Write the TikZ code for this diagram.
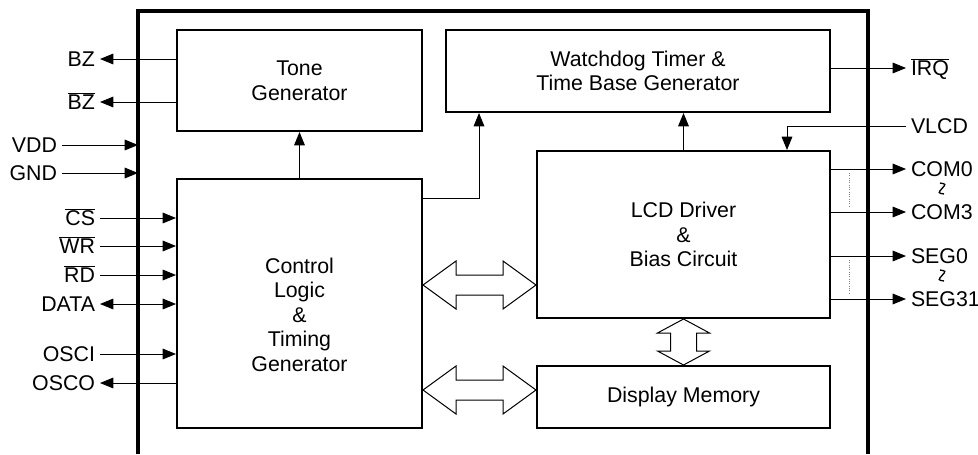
\documentclass[tikz,border=0pt]{standalone}
\usepackage{fontspec}
\setmainfont{Liberation Sans}
\usetikzlibrary{arrows.meta,calc}
\newcommand{\barsig}[1]{$\overline{\mbox{#1}}$}

\begin{document}
\begin{tikzpicture}[x=0.75pt,y=-0.75pt,
    font=\fontsize{16}{18.4}\selectfont,
    >={Triangle[length=10pt,width=8pt]},
    block/.style={draw=black,line width=1.5pt,align=center,inner sep=0pt},
    pin/.style={inner sep=0pt,outer sep=3.75pt,text height=11.5pt,text depth=0pt},
    wire/.style={line width=0.75pt},
    bus/.style={draw=black,fill=white,line width=0.75pt,line join=miter}]
  \useasboundingbox (0,0) rectangle (978,454);

  % chip outline (open at the bottom)
  \node[inner sep=0pt,outer sep=0pt,minimum width=547.5pt,minimum height=332.25pt] (chip) at (503,232.5) {};
  \draw[line width=2.5pt] (chip.south west) -- (chip.north west) -- (chip.north east) -- (chip.south east);

  % blocks
  \node[block,minimum width=183.75pt,minimum height=75.75pt] (Tone) at (299.5,80.5) {Tone\\Generator};
  \node[block,minimum width=288pt,minimum height=61.5pt] (WDT) at (638,71) {Watchdog Timer \&\\Time Base Generator};
  \node[block,minimum width=183.75pt,minimum height=186.75pt] (Ctrl) at (299.5,303.5) {};
  \node[align=center] (CtrlTxt) at (299.5,314.5) {Control\\Logic\\\&\\Timing\\Generator};
  \node[block,minimum width=219.75pt,minimum height=125.25pt] (LCD) at (683.5,234.5) {LCD Driver\\\&\\Bias Circuit};
  \node[block,minimum width=219.75pt,minimum height=46.5pt] (Mem) at (683.5,397) {Display Memory};

  % left pins
  \node[pin,anchor=east] (BZ) at (100,59) {BZ};
  \node[pin,anchor=east] (BZn) at (100,102) {\barsig{BZ}};
  \node[pin,anchor=east] (VDD) at (62,145) {VDD};
  \node[pin,anchor=east] (GND) at (62,173) {GND};
  \node[pin,anchor=east] (CS) at (100,218) {\barsig{CS}};
  \node[pin,anchor=east] (WR) at (100,246) {\barsig{WR}};
  \node[pin,anchor=east] (RD) at (100,275) {\barsig{RD}};
  \node[pin,anchor=east] (DATA) at (100,304) {DATA};
  \node[pin,anchor=east] (OSCI) at (100,354) {OSCI};
  \node[pin,anchor=east] (OSCO) at (100,383) {OSCO};

  % right pins
  \node[pin,anchor=west] (IRQ) at (906,68) {\barsig{IRQ}};
  \node[pin,anchor=west] (VLCD) at (906,126) {VLCD};
  \node[pin,anchor=west] (COM0) at (906,169) {COM0};
  \node[pin,anchor=west] (COM3) at (906,212) {COM3};
  \node[pin,anchor=west] (SEG0) at (906,256) {SEG0};
  \node[pin,anchor=west] (SEG31) at (906,299) {SEG31};

  % pin wires
  \draw[wire,->] (Tone.west |- BZ) -- (BZ);
  \draw[wire,->] (Tone.west |- BZn) -- (BZn);
  \draw[wire,->] (VDD) -- (VDD -| chip.west);
  \draw[wire,->] (GND) -- (GND -| chip.west);
  \foreach \p in {CS,WR,RD,OSCI}
    \draw[wire,->] (\p) -- (\p -| Ctrl.west);
  \draw[wire,<->] (DATA) -- (DATA -| Ctrl.west);
  \draw[wire,->] (Ctrl.west |- OSCO) -- (OSCO);
  \draw[wire,->] (WDT.east |- IRQ) -- (IRQ);
  \foreach \p in {COM0,COM3,SEG0,SEG31}
    \draw[wire,->] (LCD.east |- \p) -- (\p);
  \coordinate (vl) at (787,126);
  \draw[wire,->] (VLCD) -| (vl |- LCD.north);

  % internal wires
  \draw[wire,->] (Ctrl.north) -- (Tone.south);
  \draw[wire,->] (LCD.north) -- (LCD.north |- WDT.south);
  \coordinate (tap) at (479,198);
  \draw[wire,->] (Ctrl.east |- tap) -| (tap |- WDT.south);

  % buses
  \coordinate (busA) at (480,285);
  \coordinate (busB) at (480,390);
  \foreach \y/\t in {busA/LCD,busB/Mem} {
    \coordinate (ha) at (Ctrl.east |- \y);
    \coordinate (hb) at (\t.west |- \y);
    \draw[bus] (ha) -- ($(ha)+(33,-24)$) -- ($(ha)+(33,-10)$) -- ($(hb)+(-33,-10)$) -- ($(hb)+(-33,-24)$)
      -- (hb) -- ($(hb)+(-33,24)$) -- ($(hb)+(-33,10)$) -- ($(ha)+(33,10)$) -- ($(ha)+(33,24)$) -- cycle;
  }
  \draw[bus] (LCD.south) -- ($(LCD.south)+(26,14)$) -- ($(LCD.south)+(13,14)$) -- ($(Mem.north)+(13,-14)$)
    -- ($(Mem.north)+(26,-14)$) -- (Mem.north) -- ($(Mem.north)+(-26,-14)$) -- ($(Mem.north)+(-13,-14)$)
    -- ($(LCD.south)+(-13,14)$) -- ($(LCD.south)+(-26,14)$) -- cycle;

  % dotted fan-out marks and breaks
  \draw[gray,densely dotted,line width=0.75pt] (849,173) -- (849,207);
  \draw[gray,densely dotted,line width=0.75pt] (849,260) -- (849,294);
  \draw[line width=1pt] (940,183) .. controls (946,184) .. (942,188.5) .. controls (938,193) .. (944,194);
  \draw[line width=1pt] (940,270) .. controls (946,271) .. (942,275.5) .. controls (938,280) .. (944,281);
\end{tikzpicture}
\end{document}
